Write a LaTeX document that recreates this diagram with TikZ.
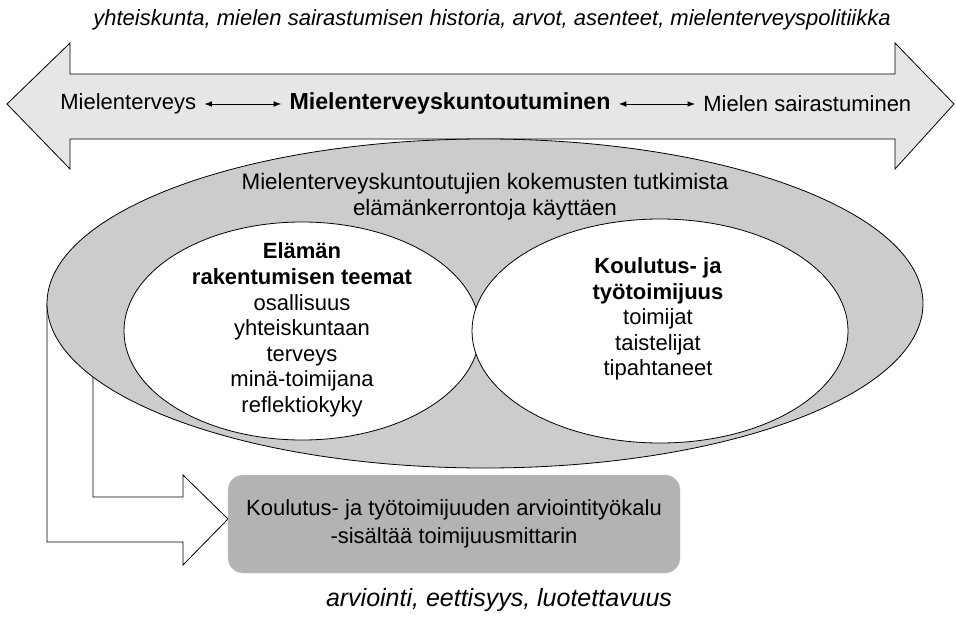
\documentclass[tikz,border=0pt]{standalone}
\usepackage{fontspec}
\setmainfont{Liberation Sans}
\usepackage{tikz}
\usetikzlibrary{arrows.meta,positioning,shapes.geometric}
\definecolor{arrowgray}{HTML}{E6E6E6}
\definecolor{ringgray}{HTML}{CCCCCC}
\definecolor{toolgray}{HTML}{B3B3B3}
\tikzset{
  bigarrow/.style={draw, thin, fill=arrowgray},
  ring/.style={draw, thin, ellipse, inner sep=0pt},
  theme/.style={align=center, font=\fontsize{11}{12.8}\selectfont},
  tool/.style={rectangle, rounded corners=7.5pt, fill=toolgray, draw=toolgray!70, very thin, align=center,
    minimum width=226pt, minimum height=49pt, font=\fontsize{11}{14}\selectfont},
  ctx/.style={font=\fontsize{11}{13}\selectfont\itshape},
  arr/.style={{Latex[length=1.3mm,width=1mm]}-{Latex[length=1.3mm,width=1mm]}, thin}
}

\begin{document}
\begin{tikzpicture}[x=0.5pt,y=-0.5pt,font=\fontsize{11}{12.8}\selectfont]
\useasboundingbox (0,0) rectangle (956,625);

% context texts
\node[ctx] (society) at (492,20) {yhteiskunta, mielen sairastumisen historia, arvot, asenteet, mielenterveyspolitiikka};
\node[ctx, font=\fontsize{12.5}{14}\selectfont\itshape] (ethics) at (499,600) {arviointi, eettisyys, luotettavuus};

% continuum arrow
\draw[bigarrow] (7,104) -- (70,43) -- (70,74) -- (895,74) -- (895,43) -- (954,104)
  -- (895,169) -- (895,139) -- (70,139) -- (70,169) -- cycle;
\node[anchor=west, inner sep=0pt] (health) at (60,104) {Mielenterveys};
\node[font=\fontsize{11.6}{12.8}\selectfont\bfseries, inner sep=0pt] (rehab) at (450,104) {Mielenterveyskuntoutuminen};
\node[anchor=west, inner sep=0pt] (illness) at (703,104) {Mielen sairastuminen};
\draw[arr] ([xshift=4pt]health.east) -- ([xshift=-4pt]rehab.west);
\draw[arr] ([xshift=4pt]rehab.east) -- ([xshift=-4pt]illness.west);

% feedback arrow (behind the ring)
\coordinate (tip) at (228,519);
\draw[thin, fill=white] (47,303) -- (47,542) -- (183,542) -- (183,565) -- (tip)
  -- (183,475) -- (183,497) -- (93,497) -- (93,303) -- cycle;

% research ring
\node[ring, fill=ringgray, minimum width=438pt, minimum height=164.5pt] (study) at (485,303.5) {};
\node[theme, font=\fontsize{11.2}{12.8}\selectfont] (studytext) at (485,197) {Mielenterveyskuntoutujien kokemusten tutkimista\\ elämänkerrontoja käyttäen};

\node[ring, fill=white, minimum width=178pt, minimum height=109pt] (life) at (302,331) {};
\node[ring, fill=white, minimum width=188pt, minimum height=112pt] (work) at (660,331) {};

\node[theme] (lifetext) at (302,330) {\textbf{Elämän}\\ \textbf{rakentumisen teemat}\\ osallisuus\\ yhteiskuntaan\\ terveys\\ minä-toimijana\\ reflektiokyky};
\node[theme] (worktext) at (658,319) {\textbf{Koulutus- ja}\\ \textbf{työtoimijuus}\\ toimijat\\ taistelijat\\ tipahtaneet};

% assessment tool
\node[tool] (tool) at (454,524) {Koulutus- ja työtoimijuuden arviointityökalu\\ -sisältää toimijuusmittarin};
\end{tikzpicture}
\end{document}
